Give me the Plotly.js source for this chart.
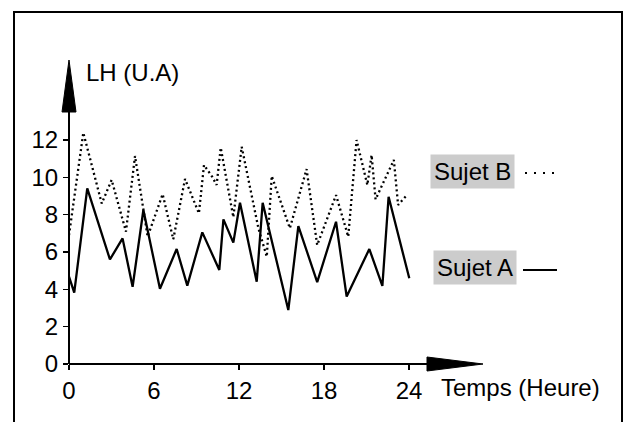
<!DOCTYPE html>
<html>
<head>
<meta charset="utf-8">
<script src="https://cdn.plot.ly/plotly-3.0.1.min.js"></script>
<style>html,body{margin:0;padding:0;background:#fff;}#chart{width:628px;height:422px;}</style>
</head>
<body>
<div id="chart"></div>
<script>
// ---- data ----
const hoursA = [0, 0.37, 1.29, 2.89, 3.78, 4.49, 5.25, 6.42, 7.6, 8.35, 9.41, 10.61, 10.9, 11.6, 12.07, 13.25, 13.67, 15.48, 16.19, 17.52, 18.85, 19.6, 21.2, 22.12, 22.56, 24.02];
const lhA    = [4.68, 3.82, 9.41, 5.6, 6.73, 4.14, 8.25, 4.03, 6.16, 4.2, 7.05, 5.04, 7.75, 6.5, 8.64, 4.41, 8.64, 2.89, 7.39, 4.39, 7.62, 3.61, 6.16, 4.18, 8.96, 4.59];
const hoursB = [0, 1.01, 2.31, 3.01, 4.02, 4.66, 5.55, 6.61, 7.36, 8.19, 9.17, 9.53, 10.11, 10.42, 10.71, 11.6, 12.19, 13.37, 13.96, 14.31, 15.59, 16.77, 17.52, 18.85, 19.71, 20.3, 21.06, 21.36, 21.64, 22.93, 23.23, 23.9];
const lhB    = [6.9, 12.39, 8.6, 9.86, 7.09, 11.14, 6.82, 9.1, 6.68, 9.91, 8.07, 10.66, 10.03, 9.59, 11.59, 7.86, 11.64, 7.27, 5.75, 10.07, 7.27, 10.44, 6.37, 9.05, 6.82, 12.0, 9.59, 11.19, 8.82, 10.93, 8.52, 9.09];
const xTicks = [0, 6, 12, 18, 24];
const yTicks = [0, 2, 4, 6, 8, 10, 12];
const labelA = "Sujet A";
const labelB = "Sujet B";
const xTitle = "Temps (Heure)";
const yTitle = "LH (U.A)";

// ---- layout geometry (pixels) ----
const W = 628, H = 422;
const L = 69, R = 600, T = 50, B = 364;
const hPerPx = 24 / (409 - 69);
const uPerPx = 12 / (364 - 140);
const xRange = [0, (R - L) * hPerPx];
const yRange = [0, (B - T) * uPerPx];
function px(p){ return (p - L) / (R - L); }
function py(p){ return (B - p) / (B - T); }

const font = "Liberation Sans, Arial, sans-serif";
const tickFont = {family: font, size: 24, color: '#000'};
const textFont = {family: font, size: 24, color: '#000'};

const traces = [
  {x: hoursA, y: lhA, mode: 'lines', line: {color: '#000', width: 2.3}, name: labelA, hoverinfo: 'skip'},
  {x: hoursB, y: lhB, mode: 'lines', line: {color: '#000', width: 2.3, dash: '2px,3px'}, name: labelB, hoverinfo: 'skip'}
];

const shapes = [
  // outer frame
  {type: 'path', xref: 'paper', yref: 'paper',
   path: `M ${px(14)} ${py(440)} L ${px(14)} ${py(12)} L ${px(622)} ${py(12)} L ${px(622)} ${py(440)}`,
   line: {color: '#000', width: 2}},
  // y axis line
  {type: 'line', xref: 'paper', yref: 'paper', x0: px(69), x1: px(69), y0: py(364), y1: py(112), line: {color: '#000', width: 2}},
  // y arrow head
  {type: 'path', xref: 'paper', yref: 'paper',
   path: `M ${px(62)} ${py(112)} L ${px(76)} ${py(112)} L ${px(69)} ${py(60)} Z`,
   fillcolor: '#000', line: {color: '#000', width: 1}},
  // x axis line
  {type: 'line', xref: 'paper', yref: 'paper', x0: px(69), x1: px(428), y0: py(364), y1: py(364), line: {color: '#000', width: 2}},
  // x arrow head
  {type: 'path', xref: 'paper', yref: 'paper',
   path: `M ${px(427)} ${py(357)} L ${px(427)} ${py(371)} L ${px(483)} ${py(364)} Z`,
   fillcolor: '#000', line: {color: '#000', width: 1}},
  // legend samples
  {type: 'line', xref: 'paper', yref: 'paper', x0: px(525), x1: px(556), y0: py(173), y1: py(173), line: {color: '#000', width: 2, dash: '2px,7px'}},
  {type: 'line', xref: 'paper', yref: 'paper', x0: px(523), x1: px(557), y0: py(270), y1: py(270), line: {color: '#000', width: 2}}
];

const annotations = [
  {xref: 'paper', yref: 'paper', x: px(84), y: py(72), xanchor: 'left', yanchor: 'middle', showarrow: false,
   text: yTitle, font: textFont},
  {xref: 'paper', yref: 'paper', x: px(439), y: py(387), xanchor: 'left', yanchor: 'middle', showarrow: false,
   text: xTitle, font: textFont},
  {xref: 'paper', yref: 'paper', x: px(430), y: py(171.5), xanchor: 'left', yanchor: 'middle', showarrow: false,
   text: labelB, bgcolor: '#cccccc', borderpad: 3, font: textFont},
  {xref: 'paper', yref: 'paper', x: px(433), y: py(267.5), xanchor: 'left', yanchor: 'middle', showarrow: false,
   text: labelA, bgcolor: '#cccccc', borderpad: 3, font: textFont}
];

const layout = {
  width: W, height: H, autosize: false,
  margin: {l: L, r: W - R, t: T, b: H - B, pad: 0},
  paper_bgcolor: '#fff', plot_bgcolor: 'rgba(0,0,0,0)',
  showlegend: false,
  xaxis: {range: xRange, tickvals: xTicks, ticktext: xTicks.map(String), showgrid: false, zeroline: false, showline: false,
          ticks: 'outside', ticklen: 5, tickwidth: 1.5, tickcolor: '#000', tickfont: tickFont, fixedrange: true},
  yaxis: {range: yRange, tickvals: yTicks, ticktext: yTicks.map(String), showgrid: false, zeroline: false, showline: false,
          ticks: 'outside', ticklen: 5, tickwidth: 1.5, tickcolor: '#000', tickfont: tickFont, fixedrange: true},
  shapes: shapes,
  annotations: annotations
};

Plotly.newPlot('chart', traces, layout, {displayModeBar: false, staticPlot: true});
</script>
</body>
</html>
